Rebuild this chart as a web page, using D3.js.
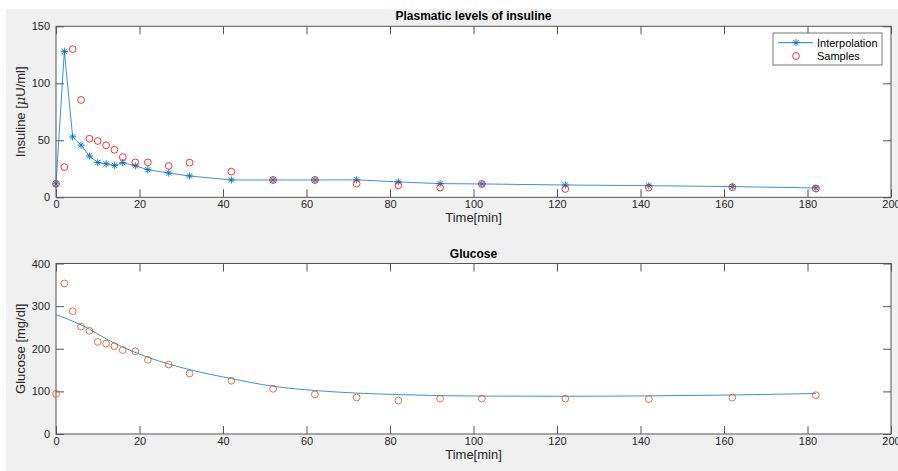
<!DOCTYPE html>
<html lang="en">
<head>
<meta charset="UTF-8">
<title>Plasmatic levels of insuline / Glucose</title>
<script src="https://d3js.org/d3.v7.min.js"></script>
<style>
  body { margin: 0; background: #fff; }
  svg { display: block; font-family: "Liberation Sans", Arial, Helvetica, sans-serif; }
  .tick text { font-size: 11px; fill: #262626; }
  .tick line { stroke: #555; }
</style>
</head>
<body>
<div id="chart"></div>
<script>
// Data
const times = [0, 2, 4, 6, 8, 10, 12, 14, 16, 19, 22, 27, 32, 42, 52, 62, 72, 82, 92, 102, 122, 142, 162, 182];
const insulineInterp = [11.8, 128, 53, 45.8, 36.2, 30.5, 29.4, 28, 30.4, 27.6, 24.2, 21.3, 18.7, 15.2, 15.2, 15.2, 15.3, 13.5, 12, 11.7, 10.8, 10.2, 9.4, 8.2];
const insulineSamples = [11.8, 26.5, 130, 85.4, 51.4, 49.4, 45.6, 41.7, 35.3, 30.6, 30.6, 27.5, 30.4, 22.5, 15.2, 15.2, 12, 10.5, 8.5, 11.7, 7.3, 8.5, 8.8, 7.6];
const glucoseSamples = [94, 353, 288, 252, 242, 216, 212, 206, 197, 194, 174, 163, 142, 125, 106, 93, 85.5, 78.5, 83, 83, 83, 82, 85.5, 91];
const fitTimes = [0, 6, 14, 22, 32, 42, 52, 62, 72, 82, 92, 102, 122, 142, 162, 182];
const glucoseFit = [280, 256, 213, 180, 151, 130, 112, 102, 96, 92.5, 90, 89, 88.5, 89.5, 91.5, 95];
const xTicks = [0, 20, 40, 60, 80, 100, 120, 140, 160, 180, 200];
const insTicks = [0, 50, 100, 150];
const gluTicks = [0, 100, 200, 300, 400];

const W = 898, H = 471;
const blue = "#0072BD", red = "#FF0000", orange = "#D95319";

const svg = d3.select("#chart").append("svg")
    .attr("width", W).attr("height", H);

// grey figure background
svg.append("rect").attr("x", 6).attr("y", 9).attr("width", W - 6).attr("height", H - 9).attr("fill", "#f0f0f0");

const left = 56, right = 891;
const x = d3.scaleLinear().domain([0, 200]).range([left, right]);

function asterisk(r) {
    const a = r * 0.72;
    return `M${-r},0L${r},0M0,${-r}L0,${r}M${-a},${-a}L${a},${a}M${-a},${a}L${a},${-a}`;
}

function panel(top, bottom, yMax, yTicks, title, ylabel) {
    const y = d3.scaleLinear().domain([0, yMax]).range([bottom, top]);
    const g = svg.append("g");

    g.append("rect").attr("x", left).attr("y", top)
        .attr("width", right - left).attr("height", bottom - top)
        .attr("fill", "#fff");

    // axes with inward ticks
    const ax = g.append("g").attr("transform", `translate(0,${bottom})`)
        .call(d3.axisBottom(x).tickValues(xTicks).tickSizeInner(-8).tickSizeOuter(0).tickPadding(3));
    const axTop = g.append("g").attr("transform", `translate(0,${top})`)
        .call(d3.axisTop(x).tickValues(xTicks).tickSizeInner(-8).tickSizeOuter(0).tickFormat(""));
    const ay = g.append("g").attr("transform", `translate(${left},0)`)
        .call(d3.axisLeft(y).tickValues(yTicks).tickSizeInner(-8).tickSizeOuter(0).tickPadding(6));
    const ayR = g.append("g").attr("transform", `translate(${right},0)`)
        .call(d3.axisRight(y).tickValues(yTicks).tickSizeInner(-8).tickSizeOuter(0).tickFormat(""));
    [ax, axTop, ay, ayR].forEach(a => a.select(".domain").remove());

    g.append("rect").attr("x", left).attr("y", top)
        .attr("width", right - left).attr("height", bottom - top)
        .attr("fill", "none").attr("stroke", "#555").attr("stroke-width", 1);

    g.append("text").attr("x", (left + right) / 2).attr("y", top - 6)
        .attr("text-anchor", "middle").attr("font-size", 12).attr("font-weight", "bold")
        .attr("fill", "#000").text(title);

    g.append("text").attr("x", (left + right) / 2).attr("y", bottom + 25)
        .attr("text-anchor", "middle").attr("font-size", 13).attr("fill", "#262626")
        .text("Time[min]");

    const yl = g.append("text")
        .attr("transform", `translate(25,${(top + bottom) / 2}) rotate(-90)`)
        .attr("text-anchor", "middle").attr("font-size", 13).attr("fill", "#262626");
    ylabel(yl);

    return { g, y };
}

// ---- Insuline ----
const p1 = panel(26.3, 197.3, 150, insTicks, "Plasmatic levels of insuline", t => {
    t.append("tspan").text("Insuline [");
    t.append("tspan").attr("font-style", "italic").attr("font-family", "DejaVu Serif, serif").text("\u03bc");
    t.append("tspan").text("U/ml]");
});

const insData = times.map((t, i) => ({ t, v: insulineInterp[i], s: insulineSamples[i] }));

p1.g.append("path").datum(insData)
    .attr("fill", "none").attr("stroke", blue).attr("stroke-width", 0.9).attr("stroke-opacity", 0.85)
    .attr("d", d3.line().x(d => x(d.t)).y(d => p1.y(d.v)));

p1.g.selectAll(".star").data(insData).enter().append("path")
    .attr("transform", d => `translate(${x(d.t)},${p1.y(d.v)})`)
    .attr("d", asterisk(3.6))
    .attr("fill", "none").attr("stroke", blue).attr("stroke-width", 0.9);

p1.g.selectAll(".samp").data(insData).enter().append("circle")
    .attr("cx", d => x(d.t)).attr("cy", d => p1.y(d.s)).attr("r", 3.4)
    .attr("fill", "none").attr("stroke", red).attr("stroke-width", 0.8);

// legend
const lg = p1.g.append("g");
lg.append("rect").attr("x", 773).attr("y", 33).attr("width", 109).attr("height", 32)
    .attr("fill", "#fff").attr("stroke", "#555").attr("stroke-width", 0.8);
lg.append("line").attr("x1", 778).attr("x2", 813).attr("y1", 42.7).attr("y2", 42.7)
    .attr("stroke", blue).attr("stroke-width", 0.9);
lg.append("path").attr("transform", "translate(796,42.7)").attr("d", asterisk(3.6))
    .attr("fill", "none").attr("stroke", blue).attr("stroke-width", 0.9);
lg.append("circle").attr("cx", 796).attr("cy", 56).attr("r", 3.4)
    .attr("fill", "none").attr("stroke", red).attr("stroke-width", 0.8);
lg.append("text").attr("x", 817).attr("y", 46.5).attr("font-size", 11).attr("fill", "#000").text("Interpolation");
lg.append("text").attr("x", 817).attr("y", 60).attr("font-size", 11).attr("fill", "#000").text("Samples");

// ---- Glucose ----
const p2 = panel(263.5, 434, 400, gluTicks, "Glucose", t => t.text("Glucose [mg/dl]"));

const fitData = fitTimes.map((t, i) => ({ t, v: glucoseFit[i] }));
p2.g.append("path").datum(fitData)
    .attr("fill", "none").attr("stroke", blue).attr("stroke-width", 0.9).attr("stroke-opacity", 0.85)
    .attr("d", d3.line().curve(d3.curveMonotoneX).x(d => x(d.t)).y(d => p2.y(d.v)));

p2.g.selectAll(".gs").data(times).enter().append("circle")
    .attr("cx", d => x(d)).attr("cy", (d, i) => p2.y(glucoseSamples[i])).attr("r", 3.4)
    .attr("fill", "none").attr("stroke", orange).attr("stroke-width", 0.8);
</script>
</body>
</html>
